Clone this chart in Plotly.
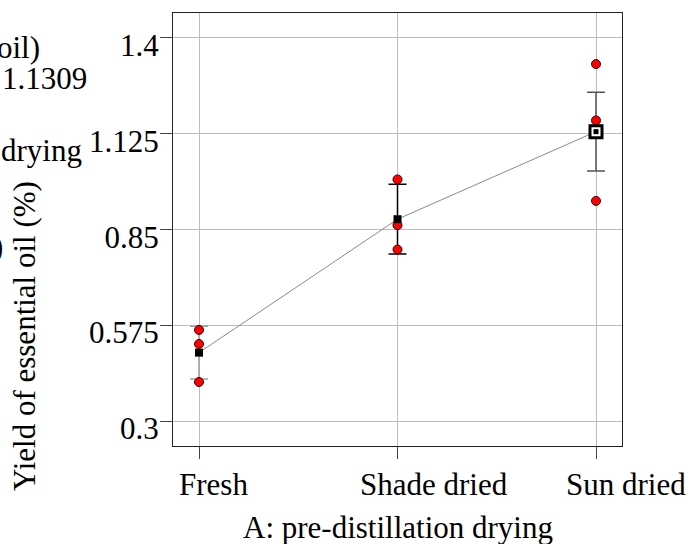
import plotly.graph_objects as go

# ---- data ----
categories = ["Fresh", "Shade dried", "Sun dried"]
obs_fresh = [0.5626, 0.5224, 0.4135]
obs_shade = [0.994, 0.863, 0.793]
obs_sun = [1.3246, 1.163, 0.9325]
means = [0.4976, 0.880, 1.1309]
half_lsd = [0.0756, 0.100, 0.113]
ytick_vals = [0.3, 0.575, 0.85, 1.125, 1.4]
ytick_text = ["0.3", "0.575", "0.85", "1.125", "1.4"]
xlabel_shift = [14, 36, 30]

W, H = 691, 544
L, R, T, B = 173, 69, 13, 98
PW, PH = W - L - R, H - T - B

def px(x):
    return (x - L) / PW

def py(y):
    return (H - B - y) / PH

FONT = "Liberation Serif, Times New Roman, serif"
fig = go.Figure()

# connecting line of means
fig.add_trace(go.Scatter(x=categories, y=means, mode="lines",
                         line=dict(color="#8a8a8a", width=1), hoverinfo="skip",
                         showlegend=False))

# error bars per level (different shades)
err_colors = ["#a0a0a0", "#000000", "#555555"]
for i, c in enumerate(categories):
    fig.add_trace(go.Scatter(x=[c], y=[means[i]], mode="markers",
                             marker=dict(size=1, color="rgba(0,0,0,0)"),
                             error_y=dict(type="data", array=[half_lsd[i]], visible=True,
                                          color=err_colors[i], thickness=1.5, width=9),
                             showlegend=False, hoverinfo="skip"))

# observations
for c, obs in zip(categories, [obs_fresh, obs_shade, obs_sun]):
    fig.add_trace(go.Scatter(x=[c] * len(obs), y=obs, mode="markers",
                             marker=dict(size=9, color="#ff0000",
                                         line=dict(color="#3a0000", width=1)),
                             showlegend=False))

# means (first two black squares)
fig.add_trace(go.Scatter(x=categories[:2], y=means[:2], mode="markers",
                         marker=dict(symbol="square", size=8, color="black"),
                         showlegend=False))
# current point marker for Sun dried
fig.add_trace(go.Scatter(x=[categories[2]], y=[means[2]], mode="markers",
                         marker=dict(symbol="square", size=12, color="white",
                                     line=dict(color="black", width=3)),
                         showlegend=False))
fig.add_trace(go.Scatter(x=[categories[2]], y=[means[2]], mode="markers",
                         marker=dict(symbol="square", size=5, color="black"),
                         showlegend=False))

fig.update_layout(
    width=W, height=H,
    margin=dict(l=L, r=R, t=T, b=B),
    paper_bgcolor="white", plot_bgcolor="white",
    font=dict(family=FONT, size=31, color="black"),
    xaxis=dict(type="category", range=[-0.131, 2.131],
               showgrid=True, gridcolor="#bdbdbd", gridwidth=1,
               showline=True, linecolor="#222", linewidth=1, mirror=True,
               ticks="outside", ticklen=12, tickcolor="#444",
               showticklabels=False, zeroline=False),
    yaxis=dict(range=[0.230, 1.471], tickvals=ytick_vals, ticktext=ytick_text,
               showgrid=True, gridcolor="#bdbdbd", gridwidth=1,
               showline=True, linecolor="#222", linewidth=1, mirror=True,
               ticks="outside", ticklen=12, tickcolor="#444",
               ticklabelshift=7, ticklabelstandoff=-5,
               tickfont=dict(family=FONT, size=31, color="black"),
               zeroline=False),
)

# x tick labels
for c, s in zip(categories, xlabel_shift):
    fig.add_annotation(x=c, xref="x", y=py(484), yref="paper", text=c,
                       xshift=s, showarrow=False, xanchor="center", yanchor="middle",
                       font=dict(family=FONT, size=31, color="black"))

ann = [
    dict(text="Yield of essential oil (%)", x=px(24), y=py(336), textangle=-90,
         xanchor="center", yanchor="middle"),
    dict(text="A: pre-distillation drying", x=px(398), y=py(527),
         xanchor="center", yanchor="middle"),
    dict(text="oil)", x=px(42), y=py(48), xanchor="right", yanchor="middle"),
    dict(text="1.1309", x=px(89), y=py(78), xanchor="right", yanchor="middle"),
    dict(text="drying", x=px(84), y=py(150), xanchor="right", yanchor="middle"),
    dict(text=")", x=px(5), y=py(246), xanchor="right", yanchor="middle"),
]
for a in ann:
    fig.add_annotation(xref="paper", yref="paper", showarrow=False,
                       font=dict(family=FONT, size=31, color="black"), **a)

fig.write_html("out.html")
